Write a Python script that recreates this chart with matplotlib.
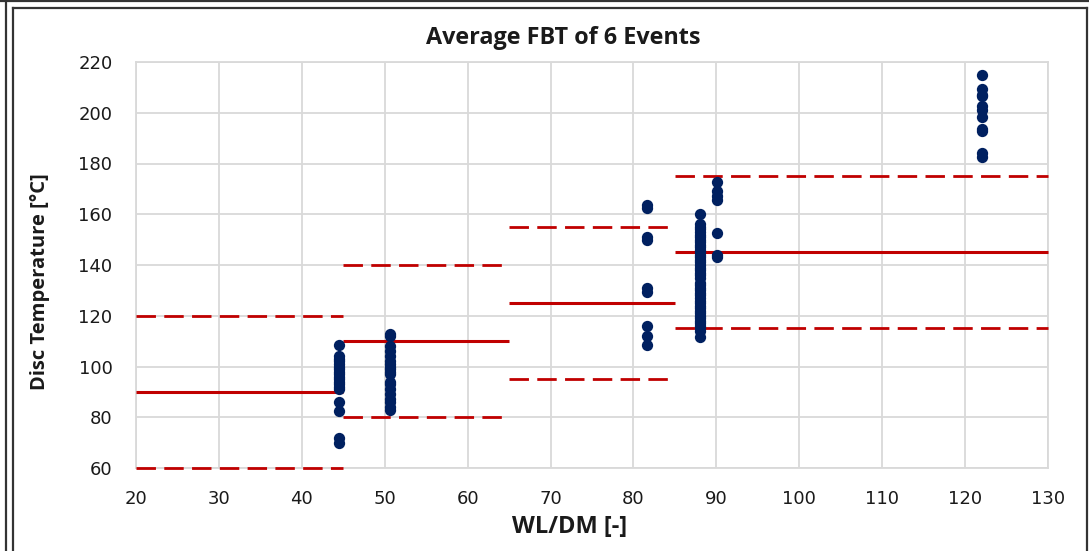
import matplotlib
matplotlib.use("Agg")
import matplotlib.pyplot as plt
from matplotlib.lines import Line2D

# ---- data ----
col_x = [44.5, 50.6, 81.6, 88.0, 90.1, 122.0]
temps_44 = [108.5, 104, 103, 102, 101, 100, 99, 98, 97, 96, 95, 94, 93, 92, 91, 86, 82.5, 72, 70]
temps_50 = [113, 112, 108, 106, 104, 102, 101, 100, 99, 98, 97, 94, 93, 91, 89, 87, 86, 84, 83]
temps_81 = [163.6, 162.4, 151, 150, 131, 129.5, 116, 112, 108.5]
temps_88 = [160, 156, 155, 154, 153, 152, 151, 150, 149, 148, 147, 146, 145, 144, 143,
            142, 141, 140, 139, 138, 137, 136, 135, 133, 132, 131, 130, 129, 128, 127,
            126, 125, 124, 123, 122, 121, 120, 119, 118, 117, 116, 115, 114, 111.5]
temps_90 = [172.6, 169, 167, 165.5, 152.5, 144, 143]
temps_122 = [215, 209.4, 207, 206.5, 202.5, 201, 198.5, 193.6, 192.8, 184, 182.6]
columns = [temps_44, temps_50, temps_81, temps_88, temps_90, temps_122]

seg_start = [20, 45, 65, 85]
seg_end = [45, 65, 85, 130]
seg_mean = [90, 110, 125, 145]
band = 30

x_ticks = [20, 30, 40, 50, 60, 70, 80, 90, 100, 110, 120, 130]
y_ticks = [60, 80, 100, 120, 140, 160, 180, 200, 220]

W, H = 1089, 551
fig = plt.figure(figsize=(W / 100, H / 100), dpi=100)
ax = fig.add_axes([136 / W, 1 - 468 / H, (1048 - 136) / W, (468 - 62) / H])

red = "#C00000"
navy = "#002060"
for s, e, m in zip(seg_start, seg_end, seg_mean):
    ax.plot([s, e], [m, m], color=red, lw=2.2, solid_capstyle="butt", zorder=3,
            clip_on=False)
    for v in (m - band, m + band):
        ax.plot([s, e], [v, v], color=red, lw=2.0, dashes=(7, 3), zorder=3,
                clip_on=False)

for x, t in zip(col_x, columns):
    ax.scatter([x] * len(t), t, s=66, color=navy, zorder=4, linewidths=0)

ax.set_xlim(20, 130)
ax.set_ylim(60, 220)
ax.set_xticks(x_ticks)
ax.set_yticks(y_ticks)
ax.grid(True, color="#d9d9d9", lw=1.3)
ax.set_axisbelow(True)
for sp in ax.spines.values():
    sp.set_color("#d9d9d9")
    sp.set_linewidth(1.3)
    sp.set_zorder(0.5)
ax.tick_params(length=0, labelsize=13, colors="#1a1a1a")
ax.tick_params(axis="x", pad=16)
ax.tick_params(axis="y", pad=17)

lab_font = ["Open Sans", "DejaVu Sans"]
fig.text(563 / W, 1 - 38 / H, "Average FBT of 6 Events", ha="center", va="center",
         fontsize=16.8, fontweight="bold", color="#1a1a1a", family=lab_font)
fig.text(570 / W, 1 - 527 / H, "WL/DM [-]", ha="center", va="center",
         fontsize=17, fontweight="bold", color="#1a1a1a", family=lab_font)
fig.text(40 / W, 1 - 282 / H, "Disc Temperature [°C]", ha="center", va="center",
         rotation=90, fontsize=14.5, fontweight="bold", color="#1a1a1a", family=lab_font)

# chart borders
bc = "#333333"
def fl(x0, y0, x1, y1, lw=1.6):
    fig.add_artist(Line2D([x0 / W, x1 / W], [1 - y0 / H, 1 - y1 / H], color=bc, lw=lw))
fl(0, 1.2, W, 1.2)
fl(6, 0, 6, H)
fl(13, 7.5, 1086.5, 7.5)
fl(13, 7.5, 13, H)
fl(1086.5, 7.5, 1086.5, H)

fig.savefig("out.png", dpi=100)
